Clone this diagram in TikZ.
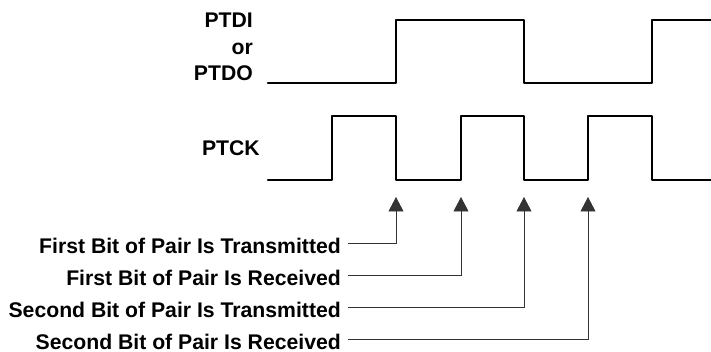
\documentclass[tikz,border=0pt]{standalone}
\usepackage{fontspec}
\setmainfont{Liberation Sans}
\usetikzlibrary{arrows.meta}
\tikzset{signal/.style={line width=2.6pt, line join=round, line cap=round},
	leader/.style={line width=0.9pt, black!80, -{Triangle[width=15pt, length=14.5pt]}},
	signame/.style={inner sep=0, anchor=base east, font=\bfseries\fontsize{21.2}{24}\selectfont},
	hinweis/.style={inner sep=0, text depth=0pt, anchor=base east, font=\bfseries\fontsize{21.2}{24}\selectfont} }

\begin{document}
\begin{tikzpicture}[x=1pt, y=-1pt]
  \useasboundingbox (0,0) rectangle (711,352);

  % signal names
  \node (ptdi) [signame] at (253,27.3) {PTDI};
  \node (or) [signame] at (253,54.3) {or};
  \node (ptdo) [signame] at (253,81) {PTDO};
  \node (ptck) [signame] at (260,156) {PTCK};

  % waveforms
  \draw [signal] (268,83) -- (396,83) -- (396,20) -- (524,20) -- (524,83)
  	-- (652,83) -- (652,20) -- (711,20);
  \draw [signal] (268,180) -- (332,180) -- (332,116) -- (396,116) -- (396,180)
  	-- (461,180) -- (461,116) -- (524,116) -- (524,180) -- (588,180)
  	-- (588,116) -- (652,116) -- (652,180) -- (711,180);

  % clock edges
  \coordinate (e1) at (396,197);
  \coordinate (e2) at (461,197);
  \coordinate (e3) at (524,197);
  \coordinate (e4) at (588,197);

  \node (t1) [hinweis] at (341,253.5) {First Bit of Pair Is Transmitted};
  \node (t2) [hinweis] at (341,285.5) {First Bit of Pair Is Received};
  \node (t3) [hinweis] at (341,317.5) {Second Bit of Pair Is Transmitted};
  \node (t4) [hinweis] at (341,349.5) {Second Bit of Pair Is Received};

  \draw [leader] ([xshift=7pt, yshift=10.5pt]t1.base east) -| (e1);
  \draw [leader] ([xshift=7pt, yshift=10.5pt]t2.base east) -| (e2);
  \draw [leader] ([xshift=7pt, yshift=10.5pt]t3.base east) -| (e3);
  \draw [leader] ([xshift=7pt, yshift=10.5pt]t4.base east) -| (e4);
\end{tikzpicture}
\end{document}
